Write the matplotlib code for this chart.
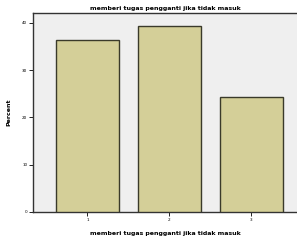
import matplotlib
matplotlib.use("Agg")
import matplotlib.pyplot as plt

categories = ["1", "2", "3"]
percents = [36.4, 39.3, 24.3]
yticks = [0, 10, 20, 30, 40]
title = "memberi tugas pengganti jika tidak masuk"

fig = plt.figure(figsize=(2.97, 2.42), dpi=100)
ax = fig.add_axes([0.111, 0.124, 0.889, 0.822])
ax.set_facecolor("#efefef")
x = list(range(1, len(categories) + 1))
ax.bar(x, percents, width=0.76, color="#d4cf98", edgecolor="#3a3a2a", linewidth=1.0, zorder=3)
ax.set_xlim(0.335, 3.555)
ax.set_ylim(0, 42.1)
ax.set_xticks(x)
ax.set_xticklabels(categories, fontsize=3)
ax.set_yticks(yticks)
ax.set_yticklabels([str(t) for t in yticks], fontsize=3)
ax.tick_params(length=3, width=0.6, pad=1)
for s in ["left", "bottom", "top"]:
    ax.spines[s].set_linewidth(1.0)
    ax.spines[s].set_color("#333333")
ax.spines["right"].set_visible(False)
ax.set_ylabel("Percent", fontsize=4.5, fontweight="bold", labelpad=8)
ax.set_xlabel(title, fontsize=4.5, fontweight="bold", labelpad=7)
ax.set_title(title, fontsize=4.5, fontweight="bold", pad=2)
fig.savefig("out.png", dpi=100)
